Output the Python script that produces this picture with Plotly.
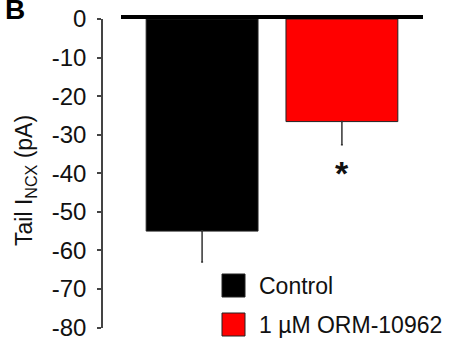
import plotly.graph_objects as go

# ---- data ----
groups = ["Control", "1 µM ORM-10962"]
means = [-55.0, -26.6]
errors = [8.0, 6.0]
bar_colors = ["#000000", "#FF0000"]
tick_vals = [0, -10, -20, -30, -40, -50, -60, -70, -80]
tick_text = ["0", "-10", "-20", "-30", "-40", "-50", "-60", "-70", "-80"]
sig_marks = ["", "*"]

W, H = 449, 338
FONT = "Liberation Sans, Arial, sans-serif"

def px(x):
    return x / W

def py(y):
    return 1 - y / H

fig = go.Figure()
fig.add_trace(go.Bar(
    x=[0, 1], y=means, width=0.8,
    marker=dict(color=bar_colors, line=dict(color="#222222", width=1)),
    error_y=dict(type="data", symmetric=False, array=[0, 0], arrayminus=errors,
                 color="#333333", thickness=1.5, width=1),
    showlegend=False,
))

# significance marks
for i, s in enumerate(sig_marks):
    if s:
        fig.add_annotation(x=i, y=means[i] - errors[i], yshift=-28, text="<b>" + s + "</b>",
                           showarrow=False, font=dict(size=34, color="#111111", family=FONT),
                           xanchor="center", yanchor="middle")

# manual legend
leg_x0, leg_size = 222, 23
leg_y = [274, 313]
for name, col, y0 in zip(groups, bar_colors, leg_y):
    fig.add_shape(type="rect", xref="paper", yref="paper",
                  x0=px(leg_x0), x1=px(leg_x0 + leg_size), y0=py(y0 + leg_size), y1=py(y0),
                  fillcolor=col, line=dict(color="#222222", width=1))
    fig.add_annotation(xref="paper", yref="paper", x=px(257), y=py(y0 + leg_size / 2),
                       text=name, showarrow=False, xanchor="left", yanchor="middle",
                       font=dict(size=23, color="#111111", family=FONT))

# panel letter
fig.add_annotation(xref="paper", yref="paper", x=px(3), y=py(27), text="<b>B</b>",
                   showarrow=False, xanchor="left", yanchor="bottom",
                   font=dict(size=28, color="#000000", family=FONT))

# y-axis title
fig.add_annotation(xref="paper", yref="paper", x=px(25), y=py(181),
                   text="Tail I<sub>NCX</sub> (pA)", textangle=-90, showarrow=False,
                   xanchor="center", yanchor="middle",
                   font=dict(size=23, color="#111111", family=FONT))

fig.update_layout(
    width=W, height=H,
    margin=dict(l=0, r=0, t=0, b=0),
    paper_bgcolor="white", plot_bgcolor="white",
    font=dict(family=FONT, color="#111111"),
    xaxis=dict(domain=[px(121), px(423)], range=[-0.58, 1.58],
               anchor="free", position=py(16.5), side="top",
               showline=True, linecolor="#000000", linewidth=4,
               showticklabels=False, ticks="", showgrid=False, zeroline=False),
    yaxis=dict(domain=[py(327.5), py(19)], range=[-80, 0],
               anchor="free", position=px(102),
               tickvals=tick_vals, ticktext=tick_text,
               showline=True, linecolor="#444444", linewidth=1.5,
               ticks="outside", ticklen=4, tickcolor="#444444", tickwidth=1.5,
               ticklabelstandoff=6, ticklabeloverflow="allow",
               tickfont=dict(size=24, color="#111111", family=FONT),
               showgrid=False, zeroline=False, automargin=False),
)

fig.write_html("out.html")
